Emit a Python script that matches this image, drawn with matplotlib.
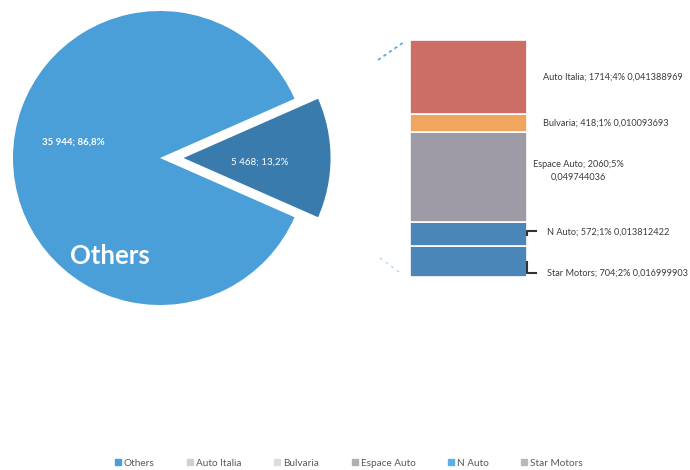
import matplotlib
matplotlib.use("Agg")
import matplotlib.pyplot as plt
from matplotlib.lines import Line2D

plt.rcParams['font.family'] = ['Lato', 'DejaVu Sans']

# pie: the rest of the market vs. the group broken out in the bar
pie_labels = ["Others", "Other"]
pie_values = [35944, 5468]

# bar: split of the 5 468 wedge (bottom -> top)
bar_names = ["Star Motors", "N Auto", "Espace Auto", "Bulvaria", "Auto Italia"]
bar_values = [704, 572, 2060, 418, 1714]
bar_colors = ["#4a86b8", "#4a86b8", "#9e9aa6", "#f1a660", "#cd6e66"]

legend_names = ["Others", "Auto Italia", "Bulvaria", "Espace Auto", "N Auto", "Star Motors"]
legend_colors = ["#4a9fd8", "#d0d0d0", "#dcdcdc", "#b0b0b0", "#5ab0e6", "#b8b8b8"]

W, H = 690, 470
total = sum(pie_values)


def fx(x):
    return x / W


def fy(y):
    return 1 - y / H


fig = plt.figure(figsize=(6.9, 4.7), dpi=100)

# ---- pie ----
R = 147.0
cx, cy = 160, 158
ax_pie = fig.add_axes([0, fy(320), 345 / W, 320 / H])
small_frac = pie_values[1] / total
ax_pie.pie(pie_values, colors=["#4a9fd8", "#3a7bae"], explode=[0, 0.16],
           startangle=small_frac * 360 / 2, counterclock=True,
           wedgeprops=dict(linewidth=0))
ax_pie.set_xlim(-cx / R, (345 - cx) / R)
ax_pie.set_ylim(-(320 - cy) / R, cy / R)
ax_pie.set_aspect('auto')
ax_pie.axis('off')


def fmt_int(v):
    return f"{v:,}".replace(",", " ")


ax_pie.text(-0.59, 0.11, f"{fmt_int(pie_values[0])}; {pie_values[0] / total * 100:.1f}%".replace(".", ","),
            color="white", fontsize=7, fontweight="bold", ha="center", va="center")
ax_pie.text(0.68, -0.03, f"{fmt_int(pie_values[1])}; {small_frac * 100:.1f}%".replace(".", ","),
            color="white", fontsize=7, ha="center", va="center")
ax_pie.text(-0.34, -0.67, pie_labels[0], color="white", fontsize=18.5,
            fontweight="bold", ha="center", va="center")

# ---- bar ----
ax_bar = fig.add_axes([fx(410), fy(277), 117 / W, 237 / H])
bottom = 0
mids = []
for v, c in zip(bar_values, bar_colors):
    ax_bar.bar(0, v, bottom=bottom, width=1, color=c, edgecolor="white", linewidth=1.2)
    mids.append(bottom + v / 2)
    bottom += v
ax_bar.set_xlim(-0.5, 0.5)
ax_bar.set_ylim(0, sum(bar_values))
ax_bar.axis('off')

blend = ax_bar.get_yaxis_transform()
px = sum(bar_values) / 237.0  # data units per pixel
txt_kw = dict(fontsize=6.6, color="#3a3a3a", transform=blend, va="center")
for name, v, m in zip(bar_names, bar_values, mids):
    frac = f"{v / total:.9f}".replace(".", ",")
    pct = round(v / total * 100)
    if name == "Espace Auto":
        ax_bar.text(1.44, m + 6 * px, f"{name}; {v};{pct}%\n{frac}", ha="center",
                    linespacing=1.5, **txt_kw)
    elif name == "N Auto":
        ax_bar.text(1.17, m + 2 * px, f"{name}; {v};{pct}% {frac}", ha="left", **txt_kw)
        ax_bar.plot([1.0, 1.0, 1.077], [m - 1 * px, m + 3 * px, m + 3 * px],
                    transform=blend, color="#333333", lw=1.5, clip_on=False)
    elif name == "Star Motors":
        ax_bar.text(1.17, m - 11 * px, f"{name}; {v};{pct}% {frac}", ha="left", **txt_kw)
        ax_bar.plot([1.0, 1.0, 1.077], [m, m - 11 * px, m - 11 * px],
                    transform=blend, color="#333333", lw=1.5, clip_on=False)
    else:
        ax_bar.text(1.137, m, f"{name}; {v};{pct}% {frac}", ha="left", **txt_kw)

# dashed connectors (faded)
fig.add_artist(Line2D([fx(378), fx(404)], [fy(60), fy(42)], color="#4aa8e8",
                      lw=1.2, ls=(0, (2, 2))))
fig.add_artist(Line2D([fx(380), fx(402)], [fy(258), fy(274)], color="#b8d4ea",
                      lw=1.0, ls=(0, (2, 3))))

# ---- legend ----
handles = [Line2D([], [], marker="s", ls="none", color=c, markersize=4.5) for c in legend_colors]
fig.legend(handles, legend_names, loc="center", bbox_to_anchor=(fx(349), fy(463)),
           ncol=6, frameon=False, fontsize=7.2, labelcolor="#595959",
           handlelength=0.6, handletextpad=0.3, columnspacing=3.25)

fig.savefig("out.png", dpi=100, facecolor="white")
